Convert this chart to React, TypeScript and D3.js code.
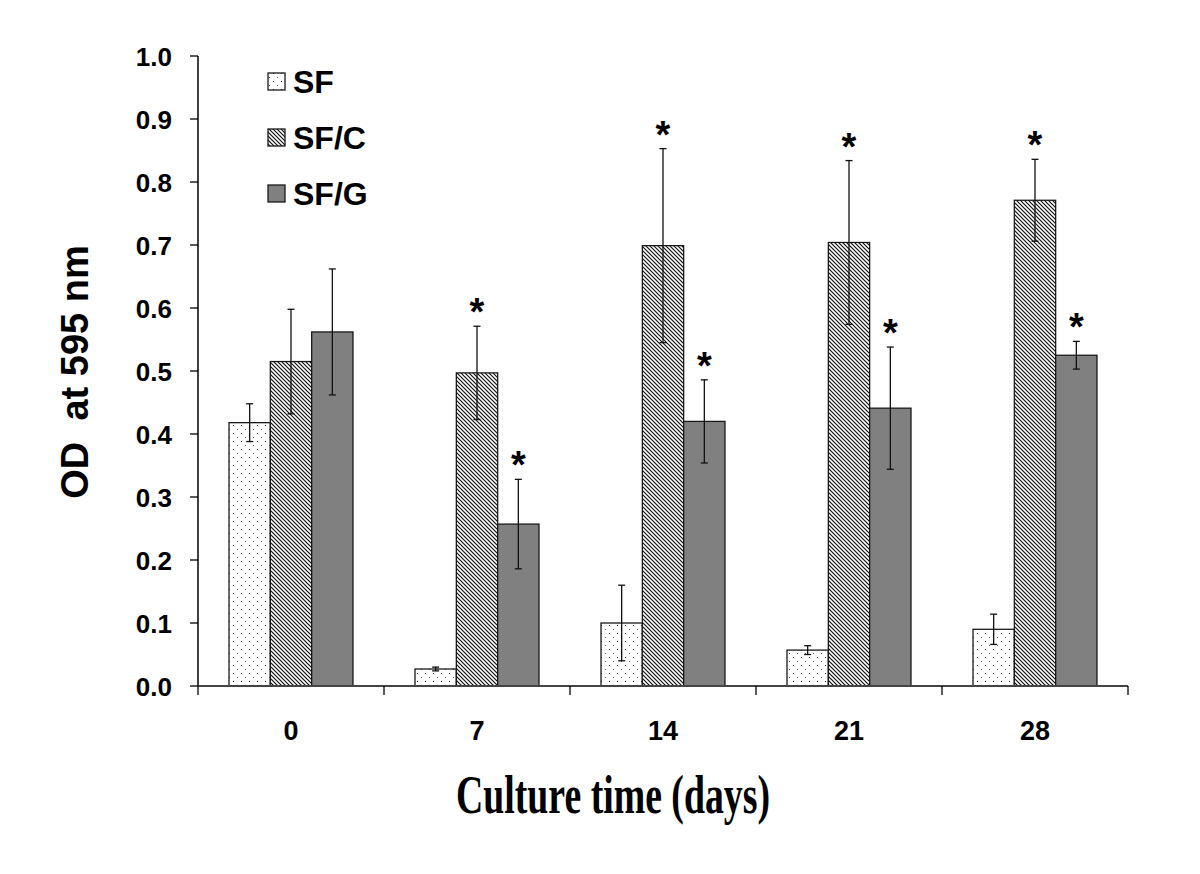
import React, { useEffect } from "react";
import * as d3 from "d3";

const categories = ["0", "7", "14", "21", "28"];
const seriesNames = ["SF", "SF/C", "SF/G"];
const sfValues = [0.418, 0.027, 0.1, 0.057, 0.09];
const sfErrors = [0.03, 0.003, 0.06, 0.007, 0.024];
const sfcValues = [0.515, 0.497, 0.699, 0.704, 0.771];
const sfcErrors = [0.083, 0.074, 0.154, 0.13, 0.065];
const sfgValues = [0.562, 0.257, 0.42, 0.441, 0.525];
const sfgErrors = [0.1, 0.071, 0.066, 0.097, 0.022];
const sfcStars = [false, true, true, true, true];
const sfgStars = [false, true, true, true, true];
const yTicks = [0, 0.1, 0.2, 0.3, 0.4, 0.5, 0.6, 0.7, 0.8, 0.9, 1.0];

const seriesValues = [sfValues, sfcValues, sfgValues];
const seriesErrors = [sfErrors, sfcErrors, sfgErrors];
const seriesStars = [null, sfcStars, sfgStars];
const fills = ["url(#dots)", "url(#hatch)", "#808080"];

export default function App() {
  useEffect(() => {
    document.body.style.margin = "0";
  }, []);

  const x0 = d3.scaleBand<string>().domain(categories).range([198, 1128]).padding(0);
  const bw = x0.bandwidth();
  const x1 = d3
    .scaleBand<string>()
    .domain(seriesNames)
    .range([bw / 6, (bw * 5) / 6])
    .padding(0);
  const y = d3.scaleLinear().domain([0, 1]).range([686, 56]);
  const barW = x1.bandwidth();
  const font = "Arial, 'Liberation Sans', sans-serif";

  return (
    <svg width={1200} height={874} style={{ display: "block", background: "#fff" }}>
      <defs>
        <pattern id="dots" patternUnits="userSpaceOnUse" width={8} height={8}>
          <rect width={8} height={8} fill="#fff" />
          <rect x={1} y={1} width={1} height={1} fill="#222" />
          <rect x={5} y={5} width={1} height={1} fill="#555" />
        </pattern>
        <pattern id="hatch" patternUnits="userSpaceOnUse" width={4} height={4}>
          <rect width={4} height={4} fill="#fff" />
          <path d="M-1,-1 L5,5 M-1,3 L1,5 M3,-1 L5,1" stroke="#111" strokeWidth={1.2} />
        </pattern>
      </defs>

      {/* bars */}
      {categories.map((c, ci) =>
        seriesNames.map((s, si) => {
          const v = seriesValues[si][ci];
          const bx = (x0(c) as number) + (x1(s) as number);
          return (
            <rect
              key={c + s}
              x={bx}
              y={y(v)}
              width={barW}
              height={y(0) - y(v)}
              fill={fills[si]}
              stroke="#1a1a1a"
              strokeWidth={1.3}
            />
          );
        })
      )}

      {/* error bars */}
      {categories.map((c, ci) =>
        seriesNames.map((s, si) => {
          const v = seriesValues[si][ci];
          const e = seriesErrors[si][ci];
          const cx = (x0(c) as number) + (x1(s) as number) + barW / 2;
          const yt = y(v + e);
          const yb = y(v - e);
          return (
            <g key={"e" + c + s} stroke="#111" strokeWidth={1.3}>
              <line x1={cx} x2={cx} y1={yt} y2={yb} />
              <line x1={cx - 3.5} x2={cx + 3.5} y1={yt} y2={yt} />
              <line x1={cx - 3.5} x2={cx + 3.5} y1={yb} y2={yb} />
            </g>
          );
        })
      )}

      {/* stars */}
      {categories.map((c, ci) =>
        seriesNames.map((s, si) => {
          const st = seriesStars[si];
          if (!st || !st[ci]) return null;
          const v = seriesValues[si][ci];
          const e = seriesErrors[si][ci];
          const cx = (x0(c) as number) + (x1(s) as number) + barW / 2;
          return (
            <text
              key={"s" + c + s}
              x={cx}
              y={y(v + e) - 1}
              textAnchor="middle"
              fontFamily={font}
              fontWeight="bold"
              fontSize={38}
              fill="#000"
            >
              *
            </text>
          );
        })
      )}

      {/* y axis */}
      <line x1={198} x2={198} y1={y(1)} y2={y(0)} stroke="#000" strokeWidth={1.5} />
      {yTicks.map((t) => (
        <g key={"yt" + t}>
          <line x1={190} x2={198} y1={y(t)} y2={y(t)} stroke="#000" strokeWidth={1.3} />
          <text
            x={172}
            y={y(t) + 9.5}
            textAnchor="end"
            fontFamily={font}
            fontWeight="bold"
            fontSize={26}
            fill="#000"
          >
            {t.toFixed(1)}
          </text>
        </g>
      ))}

      {/* x axis */}
      <line x1={198} x2={1128} y1={y(0)} y2={y(0)} stroke="#444" strokeWidth={1.8} />
      {[...categories.map((c) => x0(c) as number), 1128].map((tx, i) => (
        <line key={"xt" + i} x1={tx} x2={tx} y1={y(0)} y2={y(0) + 9} stroke="#000" strokeWidth={1.3} />
      ))}
      {categories.map((c) => (
        <text
          key={"xl" + c}
          x={(x0(c) as number) + bw / 2}
          y={740}
          textAnchor="middle"
          fontFamily={font}
          fontWeight="bold"
          fontSize={27}
          fill="#000"
        >
          {c}
        </text>
      ))}

      {/* axis titles */}
      <text
        transform="translate(88,372) rotate(-90)"
        textAnchor="middle"
        fontFamily={font}
        fontWeight="bold"
        fontSize={38}
        fill="#000"
        style={{ whiteSpace: "pre" }}
      >
        {"OD  at 595 nm"}
      </text>
      <text
        x={456}
        y={813}
        textLength={314}
        lengthAdjust="spacingAndGlyphs"
        fontFamily="'Times New Roman', 'Liberation Serif', serif"
        fontWeight="bold"
        fontSize={54}
        fill="#000"
      >
        Culture time (days)
      </text>

      {/* legend */}
      {seriesNames.map((s, si) => {
        const cy = 81.5 + si * 56;
        return (
          <g key={"lg" + s}>
            <rect x={268} y={cy - 8.5} width={17} height={17} fill={fills[si]} stroke="#1a1a1a" strokeWidth={1.3} />
            <text
              x={293}
              y={cy + 11.5}
              fontFamily={font}
              fontWeight="bold"
              fontSize={32}
              fill="#000"
            >
              {s}
            </text>
          </g>
        );
      })}
    </svg>
  );
}
